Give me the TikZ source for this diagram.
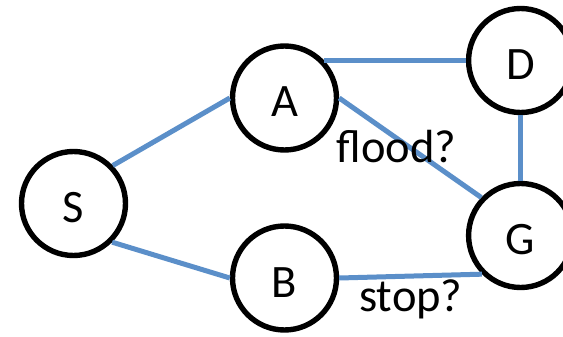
\documentclass[tikz,border=0pt]{standalone}
\usepackage{fontspec}
\setmainfont{Carlito}
\usetikzlibrary{shadows}
\definecolor{edgeblue}{RGB}{91,143,201}
\begin{document}
\begin{tikzpicture}[x=1pt,y=-1pt,
  state/.style={circle, draw=black, line width=5.4pt, fill=white,
    minimum size=104pt, inner sep=0pt,
    font=\fontsize{46.5}{50}\selectfont, text height=38pt, text depth=0pt,
    drop shadow={shadow xshift=1.5pt, shadow yshift=-2pt, opacity=0.22, fill=black!50}},
  link/.style={draw=edgeblue, line width=5pt},
  note/.style={anchor=base west, inner sep=0pt, font=\fontsize{46.5}{50}\selectfont}]
\useasboundingbox (0,0) rectangle (563,337);
\node[state] (S) at (73.5,203.5) {S};
\node[state] (A) at (284.5,98) {A};
\node[state] (B) at (284.5,278) {B};
\node[state] (D) at (520.6,60.5) {D};
\node[state] (G) at (520.6,235.5) {G};
\draw[link] (S.44) -- (A.west);
\draw[link] (S.-45.5) -- (B.west);
\draw[link] (A.44) -- (A.44 -| D.west);
\draw[link] (A.east) -- (G.136);
\draw[link] (B.east) -- (G.225);
\draw[link] (D.south) -- (G.north);
\node[note] (flood) at (336.5,162.7) {flood?};
\node[note] (stop) at (359,311.7) {stop?};
\end{tikzpicture}
\end{document}
